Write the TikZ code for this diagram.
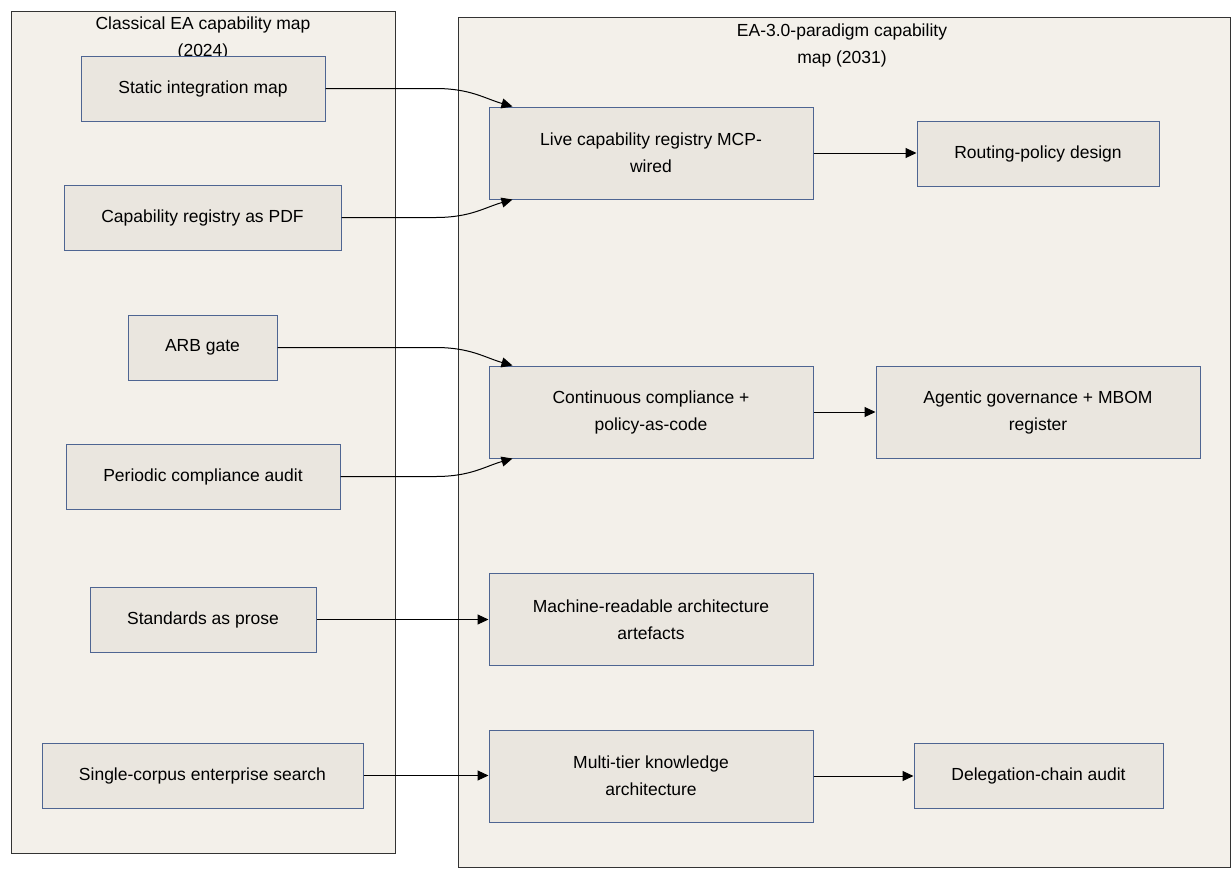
\documentclass[tikz,border=0pt]{standalone}
\usepackage{fontspec}
\setmainfont{Liberation Sans}
\usetikzlibrary{arrows.meta}

\definecolor{clusterfill}{HTML}{F3F0EA}
\definecolor{clusterline}{HTML}{333333}
\definecolor{boxfill}{HTML}{EAE6DF}
\definecolor{boxline}{HTML}{4E6592}

\begin{document}
\begin{tikzpicture}[
  x=1pt, y=-1pt,
  cluster/.style={draw=clusterline, fill=clusterfill, line width=1pt},
  title/.style={align=center, font=\fontsize{17.5}{27}\selectfont},
  box/.style={draw=boxline, fill=boxfill, line width=1pt, align=center,
    minimum height=65, inner sep=0pt, font=\fontsize{17.5}{27}\selectfont},
  tall/.style={box, minimum height=92},
  flow/.style={draw, line width=1pt, -{Triangle[length=11pt,width=10pt]}}]
\useasboundingbox[fill=white] (0,0) rectangle (1231,879);
% the two capability maps
\draw[cluster] (11,11) rectangle (395,853);
\draw[cluster] (458,17) rectangle (1230,867);
\node[title] (oldtitle) at (203,38) {Classical EA capability map\\(2024)};
\node[title] (newtitle) at (842,45) {EA-3.0-paradigm capability\\map (2031)};
% classical side
\node[box, minimum width=244] (static) at (203,88.5) {Static integration map};
\node[box, minimum width=277] (pdf) at (202.5,217.5) {Capability registry as PDF};
\node[box, minimum width=149] (arb) at (202.5,347.5) {ARB gate};
\node[box, minimum width=274] (audit) at (203,476.5) {Periodic compliance audit};
\node[box, minimum width=226] (prose) at (203,619.5) {Standards as prose};
\node[box, minimum width=321] (search) at (202.5,775.5) {Single-corpus enterprise search};
% EA 3.0 side
\node[tall, minimum width=324] (live) at (651,153) {Live capability registry MCP-\\wired};
\node[box, minimum width=242] (routing) at (1038,153.5) {Routing-policy design};
\node[tall, minimum width=324] (compliance) at (651,412) {Continuous compliance +\\policy-as-code};
\node[tall, minimum width=324] (agentic) at (1038,412) {Agentic governance + MBOM\\register};
\node[tall, minimum width=324] (machine) at (651,619.5) {Machine-readable architecture\\artefacts};
\node[tall, minimum width=324] (tier) at (651,776) {Multi-tier knowledge\\architecture};
\node[box, minimum width=249] (delegation) at (1038.5,775.5) {Delegation-chain audit};
% connectors
\draw[flow] (static.east) -- ++(110,0) .. controls +(35,0) and +(-28,-8) .. ([xshift=24]live.north west);
\draw[flow] (pdf.east) -- ++(94,0) .. controls +(35,0) and +(-28,8) .. ([xshift=24]live.south west);
\draw[flow] (arb.east) -- ++(158,0) .. controls +(35,0) and +(-28,-8) .. ([xshift=24]compliance.north west);
\draw[flow] (audit.east) -- ++(95,0) .. controls +(35,0) and +(-28,8) .. ([xshift=24]compliance.south west);
\draw[flow] (prose) -- (machine);
\draw[flow] (search) -- (search -| tier.west);
\draw[flow] (live) -- (live -| routing.west);
\draw[flow] (compliance) -- (agentic);
\draw[flow] (tier) -- (tier -| delegation.west);
\end{tikzpicture}
\end{document}
